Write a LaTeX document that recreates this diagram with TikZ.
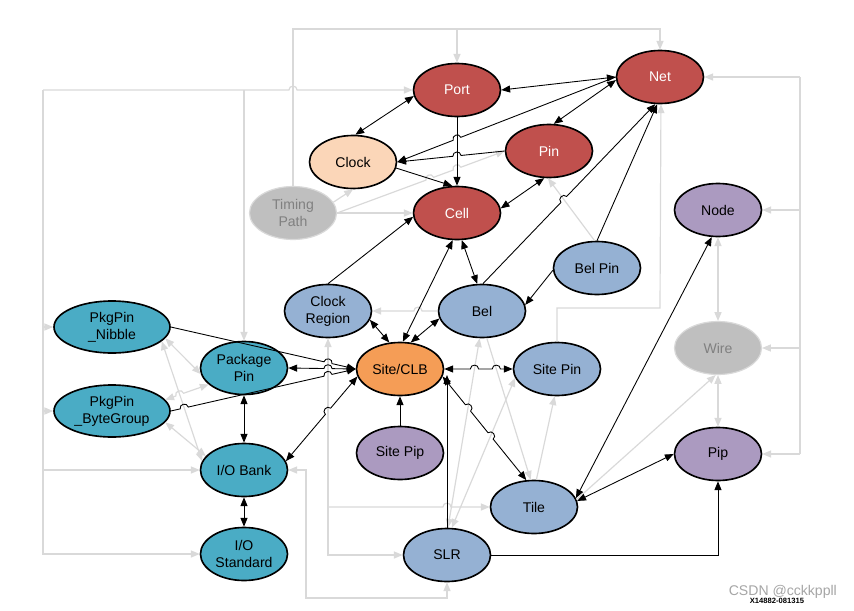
\documentclass[tikz,border=0pt]{standalone}
\usepackage{fontspec}
\setmainfont{Liberation Sans}
\usetikzlibrary{arrows.meta,shapes.geometric,calc}
\definecolor{cRed}{HTML}{C0504D}
\definecolor{cPeach}{HTML}{FBD6B8}
\definecolor{cBlue}{HTML}{95B1D3}
\definecolor{cOrange}{HTML}{F59D56}
\definecolor{cPurp}{HTML}{AB9AC0}
\definecolor{cTeal}{HTML}{4AACC5}
\definecolor{cGhost}{HTML}{BFBFBF}
\definecolor{cGhostTxt}{HTML}{808080}
\definecolor{lg}{HTML}{D9D9D9}
\tikzset{
  ent/.style={ellipse, draw=black, line width=1.4pt, minimum width=2.61cm, minimum height=1.59cm,
    inner sep=0pt, align=center, font=\fontsize{12}{14.5}\selectfont},
  wideent/.style={ent, minimum width=3.48cm, minimum height=1.56cm},
  ghost/.style={ent, fill=cGhost, draw=lg, line width=1pt, text=cGhostTxt},
  bk/.style={draw=black, line width=0.75pt},
  gy/.style={draw=lg, line width=1pt},
}
% hop over a crossing point #1 on a straight line from #2 to #3
\newcommand\hpL[3]{-- ($(#1)!3.5pt!(#2)$) to[bend left=90,looseness=1.6] ($(#1)!3.5pt!(#3)$)}
\newcommand\hpR[3]{-- ($(#1)!3.5pt!(#2)$) to[bend right=90,looseness=1.6] ($(#1)!3.5pt!(#3)$)}
\begin{document}
\begin{tikzpicture}[x=0.03cm,y=-0.03cm,>={Triangle[length=7.5pt,width=6pt]}]
\fill[white] (0,0) rectangle (854,611);
\useasboundingbox (0,0) rectangle (854,611);

% nodes
\node[ent,fill=cRed,text=white] (port) at (457,90) {Port};
\node[ent,fill=cRed,text=white] (net) at (660,77) {Net};
\node[ent,fill=cPeach] (clock) at (353,162) {Clock};
\node[ent,fill=cRed,text=white] (pin) at (549,151) {Pin};
\node[ent,fill=cRed,text=white] (cell) at (457,213) {Cell};
\node[ghost] (timing) at (293,213) {Timing\\Path};
\node[ent,fill=cPurp] (nodeN) at (718,210) {Node};
\node[ent,fill=cBlue] (belpin) at (597,268) {Bel Pin};
\node[ent,fill=cBlue] (creg) at (328,311) {Clock\\Region};
\node[ent,fill=cBlue] (bel) at (482,311) {Bel};
\node[wideent,fill=cTeal] (nibble) at (112,327) {PkgPin\\\_Nibble};
\node[ent,fill=cTeal] (pkgpin) at (244,368) {Package\\Pin};
\node[ent,fill=cOrange] (site) at (400,369) {Site/CLB};
\node[ent,fill=cBlue] (sitepin) at (557,369) {Site Pin};
\node[ghost] (wire) at (718,348) {Wire};
\node[wideent,fill=cTeal] (byte) at (112,411) {PkgPin\\\_ByteGroup};
\node[ent,fill=cPurp] (sitepip) at (400,453) {Site Pip};
\node[ent,fill=cPurp] (pip) at (718,454) {Pip};
\node[ent,fill=cTeal] (iobank) at (244,470) {I/O Bank};
\node[ent,fill=cBlue] (tile) at (534,507) {Tile};
\node[ent,fill=cBlue] (slr) at (447,555) {SLR};
\node[ent,fill=cTeal] (iostd) at (244,554) {I/O\\Standard};

% helper coordinates
\coordinate (topL) at (293,29);
\coordinate (leftT) at (43,90);
\coordinate (rightT) at (800,77);
\coordinate (ioR) at (306,470);
\coordinate (ioB) at (306,598);
\coordinate (spT) at (557,308);
\coordinate (cvb) at (creg.south |- slr.west);
\coordinate (slrT) at (slr.north |- site.-8);

% crossing points (for hops)
\coordinate (x1) at (293,90);
\coordinate (x2) at (intersection of net.west--clock.east and port.south--cell.north);
\coordinate (x3) at (intersection of pin.west--clock.east and port.south--cell.north);
\coordinate (x4a) at (intersection of timing.east--pin.west and clock.-8--cell.100);
\coordinate (x4b) at (intersection of timing.east--pin.west and port.south--cell.north);
\coordinate (x5) at (intersection of bel.88--net.-100 and belpin.95--pin.-92);
\coordinate (x6) at (intersection of bel.west--creg.east and cell.-99--site.84);
\coordinate (x7) at (intersection of site.west--pkgpin.east and creg.south--cvb);
\coordinate (x8) at (intersection of nibble.east--site.west and creg.south--cvb);
\coordinate (x9a) at (intersection of byte.east--site.west and nibble.-16--iobank.168);
\coordinate (x9b) at (intersection of byte.east--site.west and creg.south--cvb);
\coordinate (x10) at (intersection of site.190--iobank.12 and creg.south--cvb);
\coordinate (x11a) at (intersection of site.east--sitepin.west and bel.-95--slr.88);
\coordinate (x11b) at (intersection of site.east--sitepin.west and bel.-80--tile.97);
\coordinate (x12a) at (intersection of site.-10--tile.106 and bel.-95--slr.88);
\coordinate (x12b) at (intersection of site.-10--tile.106 and sitepin.192--slr.80);
\coordinate (x13) at (slr.north |- tile.west);
\coordinate (x14) at (intersection of byte.12--pkgpin.205 and nibble.-16--iobank.168);

% ---------- gray connectors ----------
\draw[gy,->] (timing.north) -- (topL) -| (net.north);
\draw[gy,->] (topL -| port.north) -- (port.north);
\draw[gy,->] (timing.15) -- (clock.south);
\draw[gy,->] (timing.east) -- (cell.west);
\draw[gy,->] (timing.east) \hpL{x4a}{timing.east}{pin.west} \hpL{x4b}{timing.east}{pin.west} -- (pin.west);
\draw[gy,->] (leftT) \hpL{x1}{leftT}{port.west} -- (port.west);
\draw[gy,->] (leftT) |- (iostd.west);
\draw[gy,->] (leftT -| pkgpin.north) -- (pkgpin.north);
\draw[gy,->] (leftT |- nibble.west) -- (nibble.west);
\draw[gy,->] (leftT |- byte.west) -- (byte.west);
\draw[gy,->] (leftT |- iobank.west) -- (iobank.west);
\draw[gy,<->] (nibble.-12) -- (pkgpin.188);
\draw[gy,<->] (nibble.-16) -- (iobank.168);
\draw[gy,<->] (byte.12) \hpL{x14}{byte.12}{pkgpin.205} -- (pkgpin.205);
\draw[gy,<->] (byte.-12) -- (iobank.160);
\draw[gy,->] (bel.west) \hpR{x6}{bel.west}{creg.east} -- (creg.east);
\draw[gy,<->] (creg.south) |- (slr.west);
\draw[gy,->] (creg.south |- tile.west) \hpL{x13}{creg.south |- tile.west}{tile.west} -- (tile.west);
\draw[gy,<->] (iobank.east) -- (ioR) -- (ioB) -| (slr.south);
\draw[gy,<->] (bel.-95) -- (slr.88);
\draw[gy,<->] (sitepin.192) -- (slr.80);
\draw[gy,->] (bel.-80) -- (tile.97);
\draw[gy,->] (tile.85) -- (sitepin.-95);
\draw[gy,->] (tile.10) -- (wire.-95);
\draw[gy,<->] (nodeN.south) -- (wire.north);
\draw[gy,<->] (wire.south) -- (pip.north);
\draw[gy,->] (rightT) -- (net.east);
\draw[gy] (rightT) -- (rightT |- pip.east);
\draw[gy,->] (rightT |- nodeN.east) -- (nodeN.east);
\draw[gy,->] (rightT |- wire.east) -- (wire.east);
\draw[gy,->] (rightT |- pip.east) -- (pip.east);
\draw[gy,->] (sitepin.north) |- (spT -| net.south) -- (net.-88);
\draw[gy,->] (belpin.95) -- (pin.-92);

% ---------- black connectors ----------
\draw[bk,<->] (port.east) -- (net.west);
\draw[bk,<->] (port.188) -- (clock.85);
\draw[bk,->] (port.south) -- (cell.north);
\draw[bk,->] (net.west) \hpR{x2}{net.west}{clock.east} -- (clock.east);
\draw[bk,<->] (net.184) -- (pin.80);
\draw[bk,->] (pin.west) \hpR{x3}{pin.west}{clock.east} -- (clock.east);
\draw[bk,->] (clock.-8) -- (cell.100);
\draw[bk,<->] (pin.-100) -- (cell.6);
\draw[bk,->] (creg.north) -- (cell.185);
\draw[bk,<->] (cell.-99) -- (site.84);
\draw[bk,<->] (cell.-80) -- (bel.100);
\draw[bk,<->] (bel.190) -- (site.68);
\draw[bk,<->] (creg.-12) -- (site.112);
\draw[bk,->] (belpin.183) -- (bel.8);
\draw[bk,->] (belpin.north) -- (net.-96);
\draw[bk,->] (bel.88) \hpL{x5}{bel.88}{net.-100} -- (net.-100);
\draw[bk,<->] (site.west) \hpR{x7}{site.west}{pkgpin.east} -- (pkgpin.east);
\draw[bk,->] (nibble.east) \hpL{x8}{nibble.east}{site.west} -- (site.west);
\draw[bk,->] (byte.east) \hpL{x9a}{byte.east}{site.west} \hpL{x9b}{byte.east}{site.west} -- (site.west);
\draw[bk,<->] (site.190) \hpR{x10}{site.190}{iobank.12} -- (iobank.12);
\draw[bk,->] (sitepip.north) -- (site.south);
\draw[bk,<->] (site.east) \hpL{x11a}{site.east}{sitepin.west} \hpL{x11b}{site.east}{sitepin.west} -- (sitepin.west);
\draw[bk,<->] (site.-10) \hpL{x12a}{site.-10}{tile.106} \hpL{x12b}{site.-10}{tile.106} -- (tile.106);
\draw[bk,->] (slr.north) -- (slrT);
\draw[bk,<->] (tile.8) -- (pip.west);
\draw[bk,<->] (nodeN.-103) -- (tile.12);
\draw[bk,->] (slr.east) -| (pip.south);
\draw[bk,<->] (pkgpin.south) -- (iobank.north);
\draw[bk,<->] (iobank.south) -- (iostd.north);

% watermark texts
\node[text=black!35, font=\fontsize{12}{14}\selectfont, anchor=east] (wm) at (841,592) {CSDN @cckkppll};
\node[font=\fontsize{6.5}{7}\selectfont\bfseries] (code) at (777,601) {X14882-081315};
\end{tikzpicture}
\end{document}
